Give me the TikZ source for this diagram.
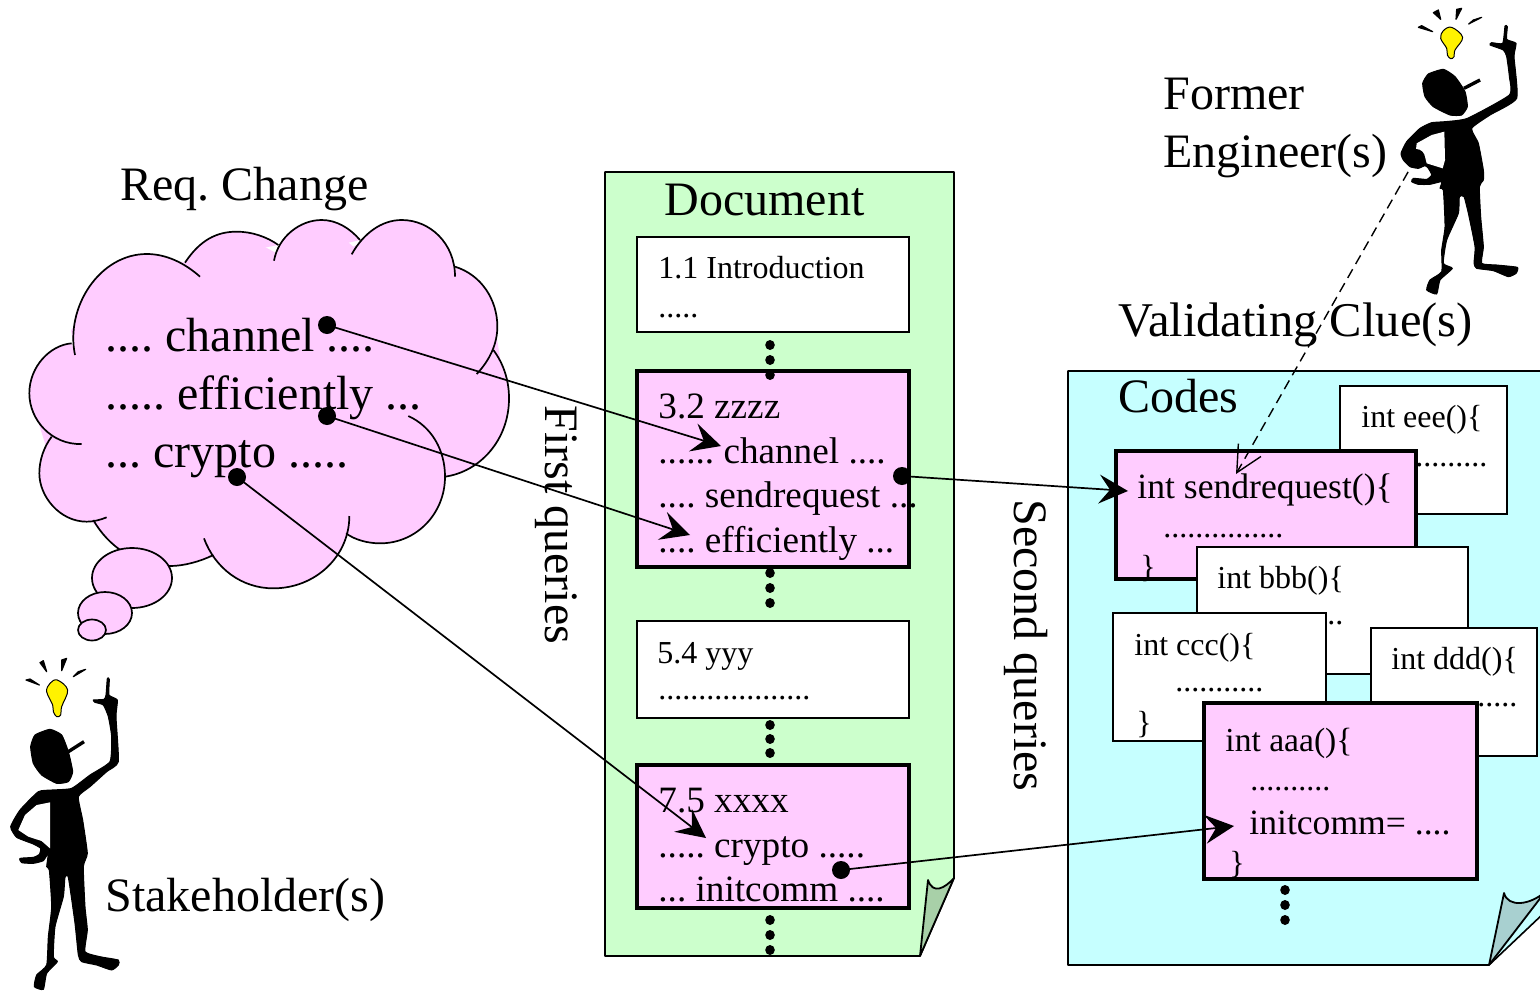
\documentclass[tikz,border=0pt]{standalone}
\usepackage{fontspec}
\setmainfont{Liberation Serif}
\usetikzlibrary{arrows.meta,shapes.geometric}
\definecolor{pinkfill}{RGB}{255,204,255}
\definecolor{greenpage}{RGB}{204,255,204}
\definecolor{cyanpage}{RGB}{198,255,255}
\definecolor{greenfold}{RGB}{168,208,168}
\definecolor{cyanfold}{RGB}{168,208,208}
\tikzset{
  bigtxt/.style={inner sep=0pt,anchor=base west,font=\fontsize{24}{24}\selectfont\frenchspacing},
  midtxt/.style={inner sep=0pt,anchor=base west,font=\fontsize{18.6}{20}\selectfont\frenchspacing},
  sndtxt/.style={inner sep=0pt,anchor=base west,font=\fontsize{17.8}{20}\selectfont\frenchspacing},
  codetxt/.style={inner sep=0pt,anchor=base west,font=\fontsize{16}{20}\selectfont\frenchspacing},
  plainbox/.style={draw=black,fill=white,line width=.8pt},
  hotbox/.style={draw=black,fill=pinkfill,line width=1.8pt},
  pagefill/.style={draw=black,line width=.8pt,line join=round},
  foldstyle/.style={draw=black,line width=.9pt,line join=round},
  dotn/.style={circle,fill=black,inner sep=0pt,minimum size=9pt},
  vdot/.style={ellipse,fill=black,inner sep=0pt,minimum width=4.8pt,minimum height=5pt},
  link/.style={draw=black,line width=.85pt,-{Stealth[length=14.5pt,width=14.5pt,inset=5.5pt]}},
  clue/.style={draw=black,line width=.7pt,dash pattern=on 5pt off 3pt,-{Straight Barb[length=13pt,width=13pt]}},
  lobe/.style={draw=black,line width=.85pt},
  thinkfill/.style={fill=pinkfill},
  bubble/.style={ellipse,draw=black,fill=pinkfill,line width=.85pt,inner sep=0pt},
  figblob/.style={fill=black,draw=black,line width=.5pt,line join=round},
  rays/.style={fill=black,draw=black,line width=.6pt,line join=round},
}
\newcommand\cfill[1]{\fill[thinkfill] #1 -- cycle;}
\newcommand\cstroke[1]{\draw[lobe] #1;}
\newcommand\lobes[1]{%
 #1{(165,435) .. controls (135,290) and (240,132) .. (380,132) .. controls (440,132) and (495,160) .. (540,200)}%
 #1{(495,158) .. controls (540,90) and (590,65) .. (650,65) .. controls (695,65) and (740,80) .. (775,105)}%
 #1{(762,152) .. controls (775,80) and (840,30) .. (905,30) .. controls (950,30) and (990,55) .. (1020,90)}%
 #1{(995,133) .. controls (1030,70) and (1085,30) .. (1145,30) .. controls (1230,30) and (1305,100) .. (1305,200)}%
 #1{(1305,170) .. controls (1385,195) and (1432,270) .. (1432,350) .. controls (1432,400) and (1410,450) .. (1370,492)}%
 #1{(1420,420) .. controls (1450,460) and (1467,510) .. (1467,565) .. controls (1467,690) and (1380,785) .. (1275,800)}%
 #1{(1165,618) .. controls (1235,650) and (1275,720) .. (1275,800) .. controls (1275,910) and (1190,1000) .. (1080,1000) .. controls (1045,1000) and (1005,990) .. (978,970)}%
 #1{(988,918) .. controls (988,1040) and (885,1135) .. (760,1135) .. controls (665,1135) and (585,1075) .. (552,985)}%
 #1{(580,1035) .. controls (540,1055) and (490,1068) .. (450,1068) .. controls (350,1068) and (265,1010) .. (220,930)}%
 #1{(260,922) .. controls (240,930) and (220,935) .. (200,935) .. controls (120,935) and (58,860) .. (58,790) .. controls (58,750) and (72,710) .. (95,680)}%
 #1{(185,702) .. controls (95,705) and (28,630) .. (28,550) .. controls (28,470) and (90,405) .. (155,400)}%
}
\newcommand\blob[1]{\path[figblob] plot[smooth cycle,tension=.3] coordinates {#1};}
\begin{document}
\begin{tikzpicture}[x=.5pt,y=-.5pt]
\clip (0,0) rectangle (1540,990);
\useasboundingbox (0,0) rectangle (1540,990);
\fill[white] (0,0) rectangle (1540,990);

% pages
\path[pagefill,fill=greenpage] (605,172) -- (954,172) -- (954,878) -- (920,956) -- (605,956) -- cycle;
\path[foldstyle,fill=greenfold] (920,956) -- (954,878) .. controls (945,888) and (933,895) .. (928,880) -- cycle;
\path[pagefill,fill=cyanpage] (1068,371) -- (1600,371) -- (1600,860) -- (1489,965) -- (1068,965) -- cycle;
\path[foldstyle,fill=cyanfold] (1489,965) -- (1545,892) .. controls (1530,905) and (1508,908) .. (1504,893) -- cycle;

% cloud
\begin{scope}[x=.16667pt,y=-.16667pt,shift={(10pt,-105pt)}]
\fill[thinkfill] (165,435)--(153,360)--(380,132)--(495,158)--(650,65)--(770,130)--(905,30)--(1000,110)--(1145,30)--(1305,180)--(1430,380)--(1465,600)--(1275,800)--(1080,1000)--(980,950)--(760,1135)--(570,1040)--(295,1018)--(210,930)--(75,700)--(28,550)--(155,400)--cycle;
\lobes{\cfill}
\lobes{\cstroke}
\end{scope}
\node[bubble,minimum width=40pt,minimum height=30pt] (bub1) at (132,578) {};
\node[bubble,minimum width=27pt,minimum height=21pt] (bub2) at (105,613) {};
\node[bubble,minimum width=14pt,minimum height=10.5pt] (bub3) at (92,630) {};

\node[bigtxt] (tcl1) at (105,351) {.... channel ....};
\node[bigtxt] (tcl2) at (105,409) {..... efficiently ...};
\node[bigtxt] (tcl3) at (105,467) {... crypto .....};
\node[bigtxt] (treq) at (120,200) {Req. Change};
\node[bigtxt] (tstake) at (105,911) {Stakeholder(s)};
\node[bigtxt] (tformer) at (1163,110) {Former};
\node[bigtxt] (teng) at (1163,167) {Engineer(s)};
\node[bigtxt,font=\fontsize{24.25}{24}\selectfont] (tval) at (1118,336) {Validating Clue(s)};
\node[bigtxt] (tdoc) at (664,215) {Document};
\node[bigtxt] (tcodes) at (1118,412) {Codes};
\node[bigtxt,rotate=-90] (tfirst) at (545,405) {First queries};
\node[bigtxt,rotate=-90] (tsecond) at (1014,499) {Second queries};

% document boxes
\path[plainbox] (637,237) rectangle (909,332);
\path[hotbox] (637,371) rectangle (909,567);
\path[plainbox] (637,621) rectangle (909,718);
\path[hotbox] (637,765) rectangle (909,908);
\node[codetxt] (s1a) at (658,278) {1.1 Introduction};
\node[codetxt] (s1b) at (658,317) {.....};
\node[midtxt] (s2a) at (658,418) {3.2 zzzz};
\node[midtxt] (s2b) at (658,463) {...... channel ....};
\node[midtxt] (s2c) at (658,507) {.... sendrequest ...};
\node[midtxt] (s2d) at (658,552) {.... efficiently ...};
\node[codetxt] (s3a) at (657,663) {5.4 yyy};
\node[codetxt] (s3b) at (658,699) {...................};
\node[midtxt] (s4a) at (658,812) {7.5 xxxx};
\node[midtxt] (s4b) at (658,857) {..... crypto .....};
\node[midtxt] (s4c) at (658,901) {... initcomm ....};
\foreach \n/\x/\y in {a1/770/345,a2/770/360,a3/770/375,b1/770/573,b2/770/588,b3/770/603,c1/770/725,c2/770/739,c3/770/753,d1/770/920,d2/770/935,d3/770/950,e1/1285/890,e2/1285/905,e3/1285/920}
  \node[vdot] (v\n) at (\x,\y) {};

% code boxes
\path[plainbox] (1340,386) rectangle (1507,514);
\node[codetxt] (ceee) at (1361,427) {int eee()\{};
\node[codetxt] (ceee2) at (1391,466) {............};
\path[hotbox] (1116,451) rectangle (1416,579);
\node[sndtxt] (csnd) at (1137,498) {int sendrequest()\{};
\node[codetxt] (csnd2) at (1163,537) {...............};
\node[codetxt] (csnd3) at (1140,577) {\}};
\path[plainbox] (1197,547) rectangle (1468,674);
\node[codetxt] (cbbb) at (1217,588) {int bbb()\{};
\node[codetxt] (cbbb2) at (1247,624) {............};
\path[plainbox] (1113,613) rectangle (1326,741);
\node[codetxt] (cccc) at (1134,655) {int ccc()\{};
\node[codetxt] (cccc2) at (1175,691) {...........};
\node[codetxt] (cccc3) at (1136,733) {\}};
\path[plainbox] (1371,628) rectangle (1537,756);
\node[codetxt] (cddd) at (1391,669) {int ddd()\{};
\node[codetxt] (cddd2) at (1421,706) {............};
\path[hotbox] (1204,703) rectangle (1477,879);
\node[inner sep=0pt,anchor=base west,font=\fontsize{16.8}{20}\selectfont] (caaa) at (1225,751) {int aaa()\{};
\node[codetxt] (caaa2) at (1250,790) {..........};
\node[sndtxt] (caaa3) at (1249,834) {initcomm= ....};
\node[codetxt] (caaa4) at (1229,873) {\}};

% stakeholder figure (reference crop coordinates)
\begin{scope}[x=.16667pt,y=-.16667pt,shift={(0pt,-320pt)}]
\blob{(92,320)(105,285)(150,268)(185,285)(205,335)(218,395)(205,425)(170,430)(125,405)(100,370)}
\draw[black,line width=1.7pt] (205,335) -- (252,305);
\blob{(322,115)(328,118)(327,165)(352,180)(348,230)(355,365)(320,395)(270,440)(235,470)(248,540)(262,640)(250,680)(255,800)(262,870)(255,935)(300,950)(355,960)(355,975)(335,990)(290,975)(245,965)(235,945)(225,850)(205,712)(195,712)(190,770)(165,860)(160,950)(172,965)(140,1000)(130,1048)(103,1040)(110,1005)(140,975)(145,890)(155,800)(148,690)(140,680)(145,640)(130,662)(100,670)(65,668)(60,655)(100,652)(118,643)(122,625)(100,612)(50,592)(32,560)(60,510)(115,455)(155,450)(215,445)(270,405)(330,365)(335,290)(325,230)(310,195)(285,187)(280,180)(312,178)(318,165)}
\fill[white] (150,487)--(110,495)--(75,525)--(55,570)--(85,590)--(125,603)--(150,625)--cycle;
\draw[black,fill=yellow,line width=.5pt] plot[smooth cycle,tension=.6] coordinates {(172,120)(203,150)(185,200)(182,225)(170,230)(160,215)(158,195)(140,155)(150,130)};
\path[rays] (120,68)--(130,62)--(140,95)--cycle (185,60)--(200,55)--(185,92)--cycle (235,95)--(257,88)--(220,110)--cycle (78,120)--(90,117)--(118,135)--cycle;
\end{scope}

% engineer figure
\begin{scope}[x=.16667pt,y=-.16667pt,shift={(695pt,0pt)}]
\blob{(98,250)(115,222)(160,208)(195,230)(225,275)(232,320)(215,345)(180,345)(130,320)(105,290)}
\draw[black,line width=1.7pt] (222,265) -- (270,240);
\blob{(345,78)(352,80)(350,118)(378,130)(372,170)(380,295)(300,345)(245,385)(265,430)(280,510)(280,540)(268,560)(272,650)(280,740)(275,790)(320,795)(382,802)(378,820)(355,830)(310,812)(260,805)(252,790)(255,740)(235,640)(222,590)(208,590)(205,640)(170,720)(160,790)(187,805)(150,840)(140,882)(110,870)(120,840)(155,815)(155,750)(165,680)(160,570)(150,565)(155,545)(120,553)(85,553)(65,545)(70,535)(110,538)(125,525)(115,505)(105,497)(85,505)(60,500)(40,480)(33,460)(50,425)(90,385)(125,368)(165,365)(232,355)(358,285)(358,230)(350,170)(340,150)(300,135)(305,128)(338,130)}
\fill[white] (163,395)--(125,405)--(80,430)--(78,448)--(105,470)--(110,490)--(158,505)--(165,480)--cycle;
\draw[black,fill=yellow,line width=.5pt] plot[smooth cycle,tension=.6] coordinates {(185,82)(218,112)(195,150)(192,170)(182,176)(172,165)(170,145)(152,115)(160,92)};
\path[rays] (130,38)--(145,30)--(152,58)--cycle (200,28)--(215,25)--(198,58)--cycle (250,60)--(275,52)--(236,72)--cycle (85,82)--(95,77)--(128,95)--cycle;
\end{scope}

% connectors
\node[dotn] (p1) at (327,325) {};
\node[dotn] (p2) at (327,416) {};
\node[dotn] (p3) at (237,477) {};
\node[dotn] (p4) at (902,476) {};
\node[dotn] (p5) at (841,870) {};
\node[dotn] (p6) at (1416,158) {};
\coordinate (q1) at (721,446);
\coordinate (q2) at (690,535);
\coordinate (q3) at (706,838);
\coordinate (q4) at (1128,491);
\coordinate (q5) at (1234,826);
\coordinate (q6) at (1236,474);
\draw[link] (p1.center) -- (q1);
\draw[link] (p2.center) -- (q2);
\draw[link] (p3.center) -- (q3);
\draw[link] (p4.center) -- (q4);
\draw[link] (p5.center) -- (q5);
\draw[clue] (p6.center) -- (q6);
\end{tikzpicture}
\end{document}
